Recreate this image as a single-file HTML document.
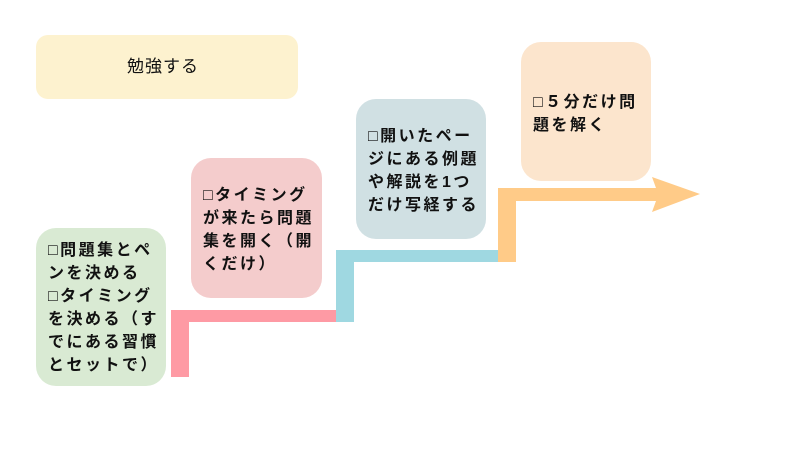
<!DOCTYPE html>
<html><head><meta charset="utf-8"><style>
body{margin:0;width:800px;height:450px;background:#fff;position:relative;overflow:hidden;font-family:"Liberation Sans","Noto Sans CJK JP",sans-serif;}
.b{position:absolute;border-radius:20px;box-sizing:border-box;}
.t{position:absolute;font-size:16px;line-height:23px;color:#111;font-weight:bold;letter-spacing:2.5px;white-space:nowrap;}
</style></head><body>
<svg width="800" height="450" style="position:absolute;left:0;top:0">
<polygon points="171,377 189,377 189,322 354,322 342,310 171,310" fill="#fe9aa4"/>
<polygon points="336,322 354,322 354,262 516,262 504,250 336,250" fill="#9fd8e1"/>
<polygon points="498,262 516,262 516,201 656,201 652,212 700,194 652,177 656,188 498,188" fill="#ffcb88"/>
</svg>
<div class="b" style="left:36px;top:35px;width:262px;height:64px;background:#fdf2cf;border-radius:12px;"></div>
<div class="t" style="left:127px;top:55px;font-weight:normal;font-size:17px;letter-spacing:1px;">勉強する</div>
<div class="b" style="left:36px;top:228px;width:130px;height:158px;background:#d9ead3;"></div>
<div class="t" style="left:48px;top:239px;">□問題集とペ<br>ンを決める<br>□タイミング<br>を決める（す<br>でにある習慣<br>とセットで）</div>
<div class="b" style="left:191px;top:158px;width:131px;height:140px;background:#f4cccc;"></div>
<div class="t" style="left:203px;top:184px;">□タイミング<br>が来たら問題<br>集を開く（開<br>くだけ）</div>
<div class="b" style="left:356px;top:99px;width:130px;height:140px;background:#d0e0e3;"></div>
<div class="t" style="left:368px;top:125px;">□開いたペー<br>ジにある例題<br>や解説を1つ<br>だけ写経する</div>
<div class="b" style="left:521px;top:42px;width:130px;height:139px;background:#fce5cd;"></div>
<div class="t" style="left:533px;top:91px;">□５分だけ問<br>題を解く</div>
</body></html>
